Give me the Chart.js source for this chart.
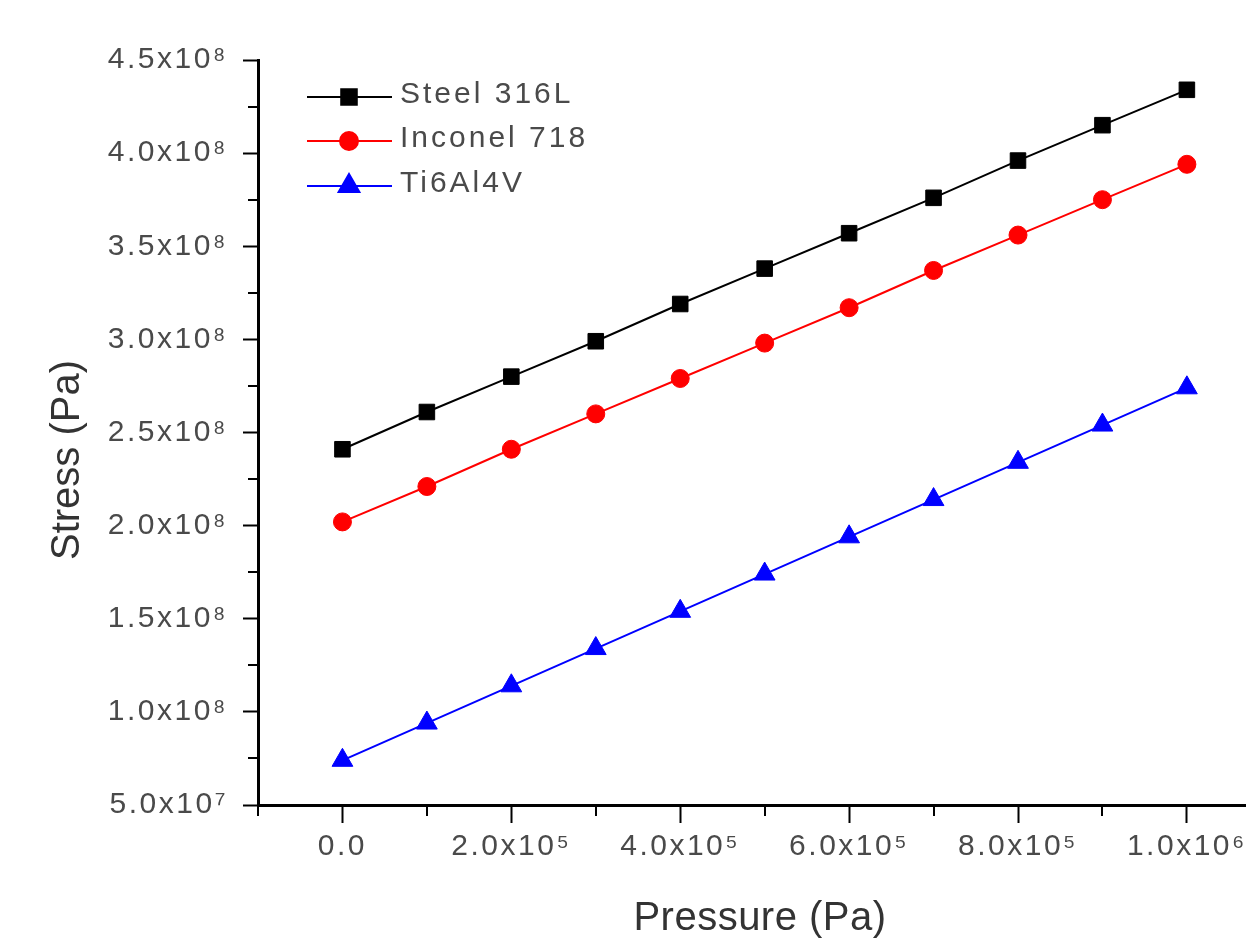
<!DOCTYPE html>
<html>
<head>
<meta charset="utf-8">
<script src="https://cdn.jsdelivr.net/npm/chart.js@4.4.1/dist/chart.umd.min.js"></script>
<style>
html,body{margin:0;padding:0;background:#fff;}
#wrap{width:1246px;height:943px;position:relative;}
</style>
</head>
<body>
<div id="wrap"><canvas id="c"></canvas></div>
<script>
// ---- data ----
const pressure = [0, 1e5, 2e5, 3e5, 4e5, 5e5, 6e5, 7e5, 8e5, 9e5, 1e6];
const steel316L = [2.41e8, 2.61e8, 2.80e8, 2.99e8, 3.19e8, 3.38e8, 3.57e8, 3.76e8, 3.96e8, 4.15e8, 4.34e8];
const inconel718 = [2.02e8, 2.21e8, 2.41e8, 2.60e8, 2.79e8, 2.98e8, 3.17e8, 3.37e8, 3.56e8, 3.75e8, 3.94e8];
const ti6al4v = [0.74e8, 0.94e8, 1.14e8, 1.34e8, 1.54e8, 1.74e8, 1.94e8, 2.14e8, 2.34e8, 2.54e8, 2.74e8];
const seriesNames = ['Steel 316L', 'Inconel 718', 'Ti6Al4V'];

const xTickValues = [0, 2e5, 4e5, 6e5, 8e5, 1e6];
const xTickLabels = ['0.0', '2.0x10\u2075', '4.0x10\u2075', '6.0x10\u2075', '8.0x10\u2075', '1.0x10\u2076'];
const xMinorTicks = [-1e5, 1e5, 3e5, 5e5, 7e5, 9e5];
const yTickValues = [5e7, 1e8, 1.5e8, 2e8, 2.5e8, 3e8, 3.5e8, 4e8, 4.5e8];
const yTickLabels = ['5.0x10\u2077', '1.0x10\u2078', '1.5x10\u2078', '2.0x10\u2078', '2.5x10\u2078', '3.0x10\u2078', '3.5x10\u2078', '4.0x10\u2078', '4.5x10\u2078'];
const yMinorTicks = [7.5e7, 1.25e8, 1.75e8, 2.25e8, 2.75e8, 3.25e8, 3.75e8, 4.25e8];
const xTitle = 'Pressure (Pa)';
const yTitle = 'Stress (Pa)';

const toPts = arr => pressure.map((x, i) => ({x: x, y: arr[i]}));

const FONT = "'Liberation Sans', Arial, sans-serif";
const TEXT_COLOR = '#4a4a4a';

const decor = {
  id: 'decor',
  beforeDraw(chart) {
    chart.ctx.letterSpacing = '2.5px';
  },
  afterDraw(chart) {
    const ctx = chart.ctx;
    const xs = chart.scales.x, ys = chart.scales.y;
    const ca = chart.chartArea;
    ctx.save();
    ctx.strokeStyle = '#000';
    ctx.lineWidth = 2;
    xMinorTicks.forEach(v => {
      const px = Math.round(xs.getPixelForValue(v));
      ctx.beginPath(); ctx.moveTo(px, ca.bottom); ctx.lineTo(px, ca.bottom + 11); ctx.stroke();
    });
    yMinorTicks.forEach(v => {
      const py = Math.round(ys.getPixelForValue(v));
      ctx.beginPath(); ctx.moveTo(ca.left, py); ctx.lineTo(ca.left - 10, py); ctx.stroke();
    });
    // axis titles
    ctx.fillStyle = '#333';
    ctx.letterSpacing = '0px';
    ctx.font = '40px ' + FONT;
    ctx.textAlign = 'center';
    ctx.textBaseline = 'middle';
    ctx.save();
    ctx.translate(68, 460);
    ctx.rotate(-Math.PI / 2);
    ctx.fillText(yTitle, 0, 0);
    ctx.restore();
    ctx.letterSpacing = '0.5px';
    ctx.fillText(xTitle, 760, 919);
    // legend
    const rows = [97, 141, 186];
    ctx.font = '30px ' + FONT;
    ctx.textAlign = 'left';
    ctx.letterSpacing = '3px';
    chart.data.datasets.forEach((ds, i) => {
      const y = rows[i];
      ctx.strokeStyle = ds.borderColor;
      ctx.lineWidth = ds.borderWidth;
      ctx.beginPath(); ctx.moveTo(307, y); ctx.lineTo(392, y); ctx.stroke();
      ctx.fillStyle = ds.pointBackgroundColor;
      ctx.strokeStyle = ds.pointBorderColor;
      Chart.helpers.drawPoint(ctx, {pointStyle: ds.pointStyle, radius: ds.pointRadius, borderWidth: 1, rotation: 0}, 349, y);
      ctx.fillStyle = TEXT_COLOR;
      ctx.fillText(ds.label, 400, y - 2);
    });
    ctx.restore();
  }
};

const mk = (label, arr, color, style, r) => ({
  label: label,
  data: toPts(arr),
  borderColor: color,
  backgroundColor: color,
  pointBackgroundColor: color,
  pointBorderColor: color,
  borderWidth: 2,
  pointStyle: style,
  pointRadius: r,
  pointBorderWidth: 1,
  tension: 0,
  fill: false
});

new Chart(document.getElementById('c'), {
  type: 'line',
  data: {
    datasets: [
      mk(seriesNames[0], steel316L, '#000000', 'rect', 11),
      mk(seriesNames[1], inconel718, '#ff0000', 'circle', 9),
      mk(seriesNames[2], ti6al4v, '#0000ff', 'triangle', 12)
    ]
  },
  options: {
    responsive: true,
    maintainAspectRatio: false,
    animation: false,
    layout: {padding: {top: 60, left: 0, right: 0, bottom: 0}, autoPadding: false},
    plugins: {legend: {display: false}, tooltip: {enabled: false}},
    scales: {
      x: {
        type: 'linear',
        min: -1e5,
        max: 1.07e6,
        afterFit: s => { s.height = 138; },
        afterBuildTicks: s => { s.ticks = xTickValues.map(v => ({value: v})); },
        border: {display: true, color: '#000', width: 3},
        grid: {display: true, drawOnChartArea: false, drawTicks: true, tickLength: 18, tickWidth: 2, tickColor: '#000'},
        ticks: {
          autoSkip: false,
          maxRotation: 0,
          padding: 6,
          color: TEXT_COLOR,
          font: {family: FONT, size: 30},
          callback: (v) => { const i = xTickValues.indexOf(v); return i >= 0 ? xTickLabels[i] : ''; }
        }
      },
      y: {
        type: 'linear',
        min: 5e7,
        max: 4.5e8,
        afterFit: s => { s.width = 258; },
        afterBuildTicks: s => { s.ticks = yTickValues.map(v => ({value: v})); },
        border: {display: true, color: '#000', width: 3},
        grid: {display: true, drawOnChartArea: false, drawTicks: true, tickLength: 15, tickWidth: 2, tickColor: '#000'},
        ticks: {
          autoSkip: false,
          padding: 15,
          color: TEXT_COLOR,
          font: {family: FONT, size: 30},
          callback: (v) => { const i = yTickValues.indexOf(v); return i >= 0 ? yTickLabels[i] : ''; }
        }
      }
    }
  },
  plugins: [decor]
});
</script>
</body>
</html>
